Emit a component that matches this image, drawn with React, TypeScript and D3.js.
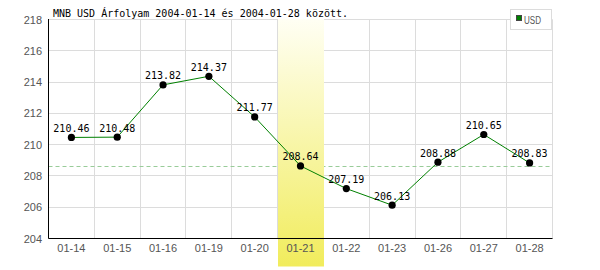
import React from "react";
import * as d3 from "d3";

const categories = ["01-14", "01-15", "01-16", "01-19", "01-20", "01-21", "01-22", "01-23", "01-26", "01-27", "01-28"];
const values = [210.46, 210.48, 213.82, 214.37, 211.77, 208.64, 207.19, 206.13, 208.88, 210.65, 208.83];
const yTicks = [204, 206, 208, 210, 212, 214, 216, 218];
const refValue = 208.6;
const highlighted = "01-21";
const title = "MNB USD Árfolyam 2004-01-14 és 2004-01-28 között.";
const seriesName = "USD";

export default function App() {
  const W = 600, H = 270;
  const left = 48.5, right = 552.5, top = 19.5, bottom = 238.5;
  const x = d3.scaleBand<string>().domain(categories).range([left, right]).padding(0);
  const y = d3.scaleLinear().domain([204, 218]).range([bottom, top]);
  const crisp = (v: number) => Math.round(v - 0.5) + 0.5;
  const line = d3
    .line<number>()
    .x((_, i) => x(categories[i])! + x.bandwidth() / 2)
    .y((d) => y(d));
  const mono = "'DejaVu Sans Mono', monospace";
  const sans = "'Liberation Sans', Arial, sans-serif";
  const hx = x(highlighted)!;
  return (
    <svg width={W} height={H} style={{ position: "absolute", left: 0, top: 0 }}>
      <defs>
        <linearGradient id="hl" x1="0" y1="0" x2="0" y2="1">
          <stop offset="0%" stopColor="#fffff4" />
          <stop offset="100%" stopColor="#f1ec5c" />
        </linearGradient>
      </defs>
      <rect width={W} height={H} fill="#fff" />
      {/* gridlines */}
      {yTicks.map((t) => (
        <line key={"h" + t} x1={left} x2={right} y1={crisp(y(t))} y2={crisp(y(t))} stroke="#dcdcdc" />
      ))}
      {categories.map((c, i) => (
        <line key={"v" + c} x1={crisp(x(c)! + x.bandwidth())} x2={crisp(x(c)! + x.bandwidth())} y1={top} y2={bottom} stroke="#dcdcdc" />
      ))}
      <line x1={left} x2={right} y1={crisp(y(refValue))} y2={crisp(y(refValue))} stroke="#99cc99" strokeDasharray="4,3" />
      {/* highlight band */}
      <rect x={Math.round(hx)} y={top - 0.5} width={Math.round(x.bandwidth())} height={267 - top} fill="url(#hl)" />
      {/* axes */}
      <line x1={left} x2={left} y1={top - 0.5} y2={bottom} stroke="#000" />
      <line x1={left} x2={right} y1={bottom} y2={bottom} stroke="#000" />
      {yTicks.map((t) => (
        <text key={"yt" + t} x={42} y={y(t) + 4} textAnchor="end" fontFamily={sans} fontSize={11} fill="#555">
          {t}
        </text>
      ))}
      {categories.map((c) => (
        <text key={"xt" + c} x={x(c)! + x.bandwidth() / 2} y={252} textAnchor="middle" fontFamily={sans} fontSize={11} fill="#555">
          {c}
        </text>
      ))}
      {/* series */}
      <path d={line(values) || ""} fill="none" stroke="#008000" strokeWidth={1} />
      {values.map((v, i) => (
        <circle key={"p" + i} cx={x(categories[i])! + x.bandwidth() / 2} cy={y(v)} r={3.6} fill="#000" />
      ))}
      {values.map((v, i) => (
        <text key={"l" + i} x={x(categories[i])! + x.bandwidth() / 2} y={y(v) - 5.5} textAnchor="middle" fontFamily={mono} fontSize={10} fill="#000">
          {v.toFixed(2)}
        </text>
      ))}
      {/* title */}
      <text x={53} y={17} fontFamily={mono} fontSize={10} fill="#000">
        {title}
      </text>
      {/* legend */}
      <rect x={510.5} y={9.5} width={41} height={20} fill="#fff" stroke="#dcdcdc" />
      <rect x={516.5} y={15.5} width={5} height={5} fill="#008000" stroke="#444" />
      <text x={524} y={24} fontFamily={sans} fontSize={10} fill="#555" textLength={17} lengthAdjust="spacingAndGlyphs">
        {seriesName}
      </text>
    </svg>
  );
}
